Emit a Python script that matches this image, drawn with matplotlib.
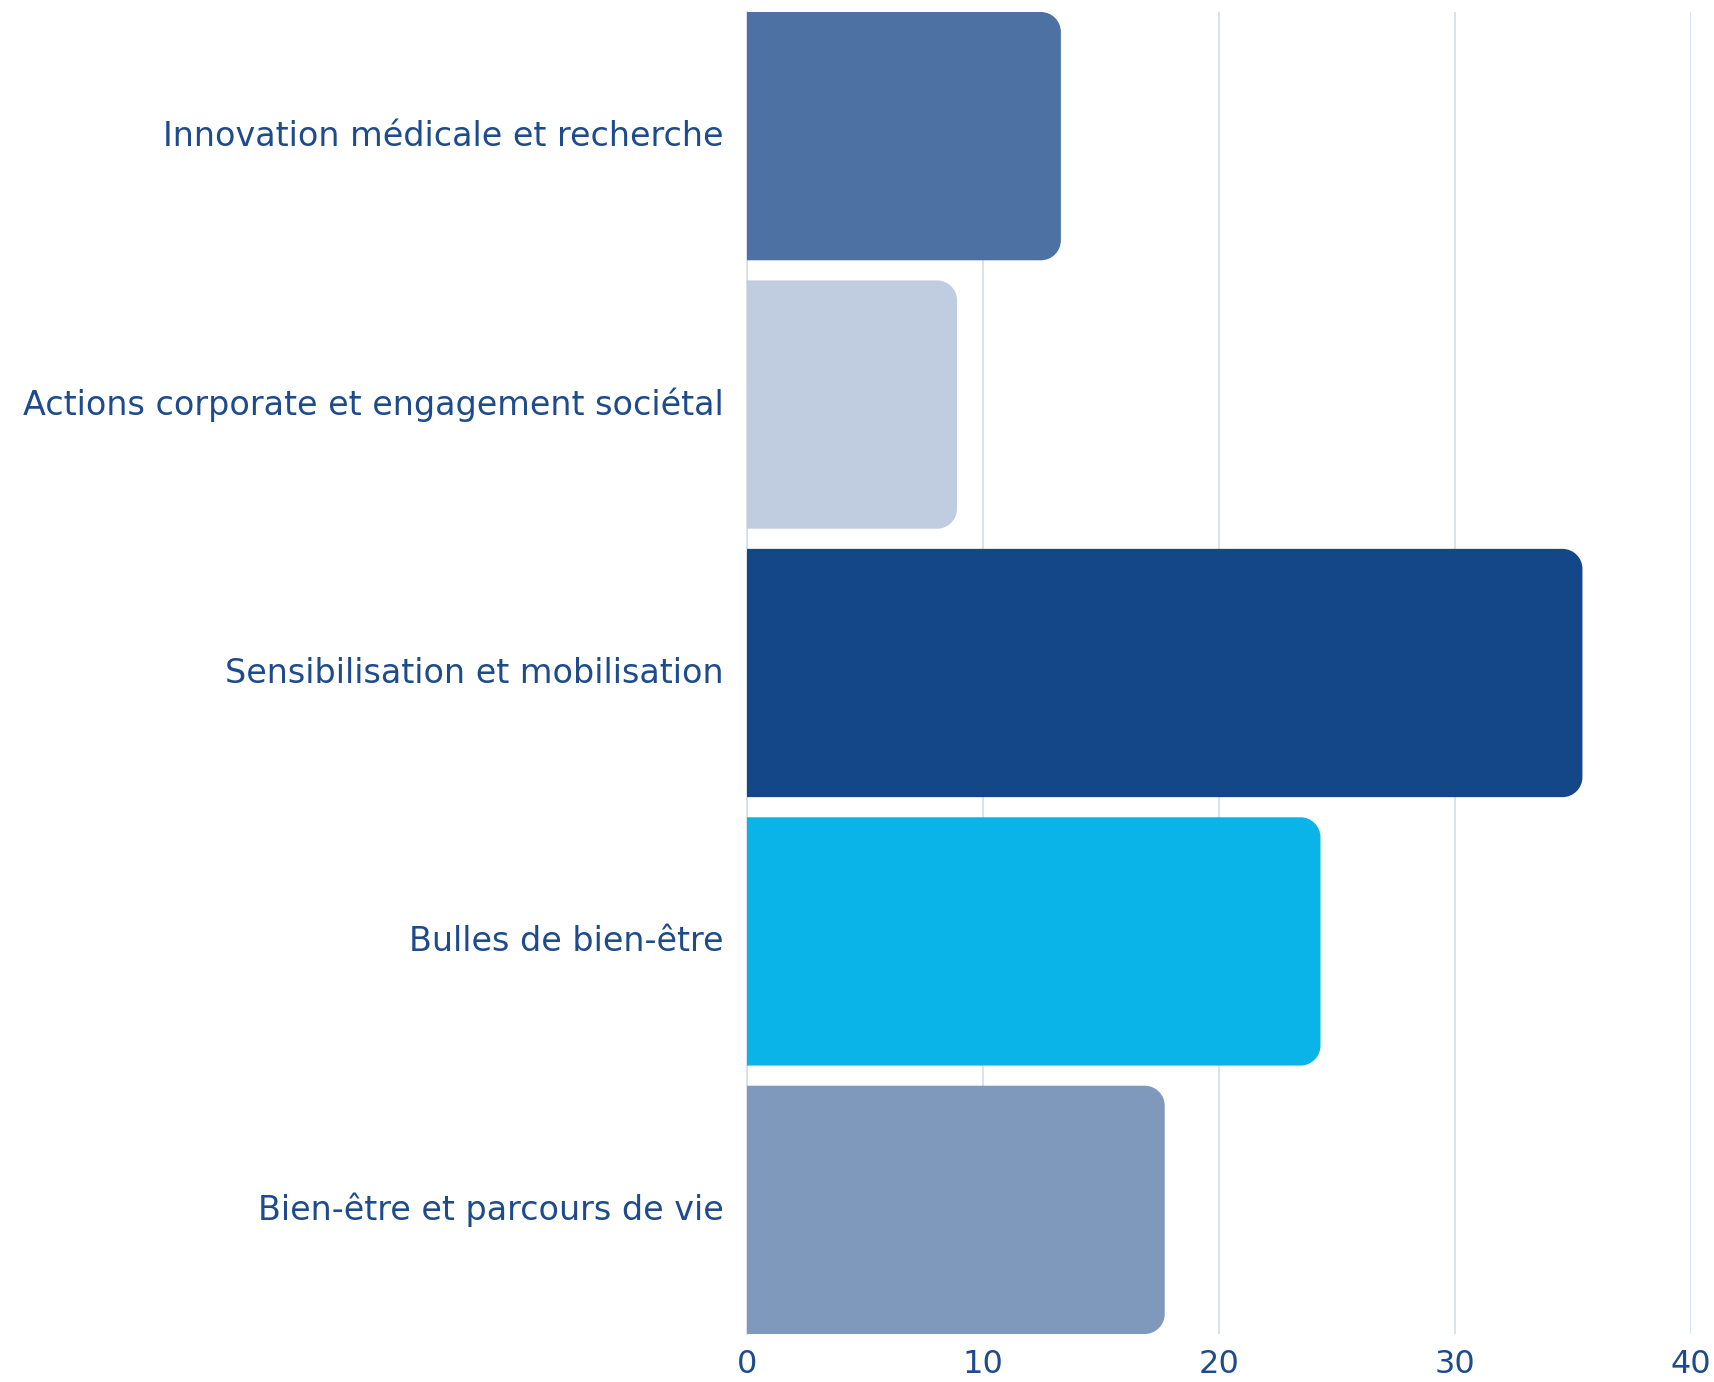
import matplotlib
matplotlib.use("Agg")
import matplotlib.pyplot as plt
from matplotlib.path import Path
from matplotlib.patches import PathPatch

categories = ["Innovation médicale et recherche",
              "Actions corporate et engagement sociétal",
              "Sensibilisation et mobilisation",
              "Bulles de bien-être",
              "Bien-être et parcours de vie"]
values = [13.3, 8.9, 35.4, 24.3, 17.7]
colors = ["#4d71a3", "#c0cce0", "#144787", "#0ab4e9", "#7f99bd"]
xticks = [0, 10, 20, 30, 40]

text_color = "#1d4b8c"
grid_color = "#d5dde9"

W, H, DPI = 1714, 1382, 100
fig = plt.figure(figsize=(W / DPI, H / DPI), dpi=DPI)
ax = fig.add_axes([747 / W, 1 - 1334 / H, (1691 - 747) / W, (1334 - 12) / H])

bar_h = 0.925
n = len(categories)
ax.set_xlim(0, 40)
ax.set_ylim(n - 1 + bar_h / 2, -bar_h / 2)

# corner radius in pixels -> data units
ax_w_px = 1691 - 747
ax_h_px = 1334 - 12
r_px = 20
rx = r_px * 40 / ax_w_px
ry = r_px * (n - 1 + bar_h) / ax_h_px
k = 0.5523

for i, (v, c) in enumerate(zip(values, colors)):
    y0 = i - bar_h / 2
    y1 = i + bar_h / 2
    verts = [
        (0, y0),
        (v - rx, y0),
        (v - rx + k * rx, y0), (v, y0 + ry - k * ry), (v, y0 + ry),
        (v, y1 - ry),
        (v, y1 - ry + k * ry), (v - rx + k * rx, y1), (v - rx, y1),
        (0, y1),
        (0, y0),
    ]
    codes = [Path.MOVETO, Path.LINETO,
             Path.CURVE4, Path.CURVE4, Path.CURVE4,
             Path.LINETO,
             Path.CURVE4, Path.CURVE4, Path.CURVE4,
             Path.LINETO, Path.CLOSEPOLY]
    ax.add_patch(PathPatch(Path(verts, codes), facecolor=c, edgecolor="none", zorder=3))

ax.set_xticks(xticks)
ax.set_xticklabels([str(t) for t in xticks])
ax.set_yticks(range(n))
ax.set_yticklabels(categories)

ax.grid(axis="x", color=grid_color, linewidth=1.2, zorder=0)
ax.grid(axis="y", visible=False)
for s in ["top", "right", "bottom"]:
    ax.spines[s].set_visible(False)
ax.spines["left"].set_color(grid_color)
ax.spines["left"].set_linewidth(1.2)
ax.spines["left"].set_zorder(1)

ax.tick_params(axis="y", length=0, pad=17, labelsize=24, labelcolor=text_color)
ax.tick_params(axis="x", length=0, pad=11, labelsize=23, labelcolor=text_color)
for lab in ax.get_yticklabels() + ax.get_xticklabels():
    lab.set_fontfamily("DejaVu Sans")
for lab in ax.get_yticklabels():
    lab.set_verticalalignment("center")

fig.savefig("out.png", dpi=DPI, facecolor="white")
